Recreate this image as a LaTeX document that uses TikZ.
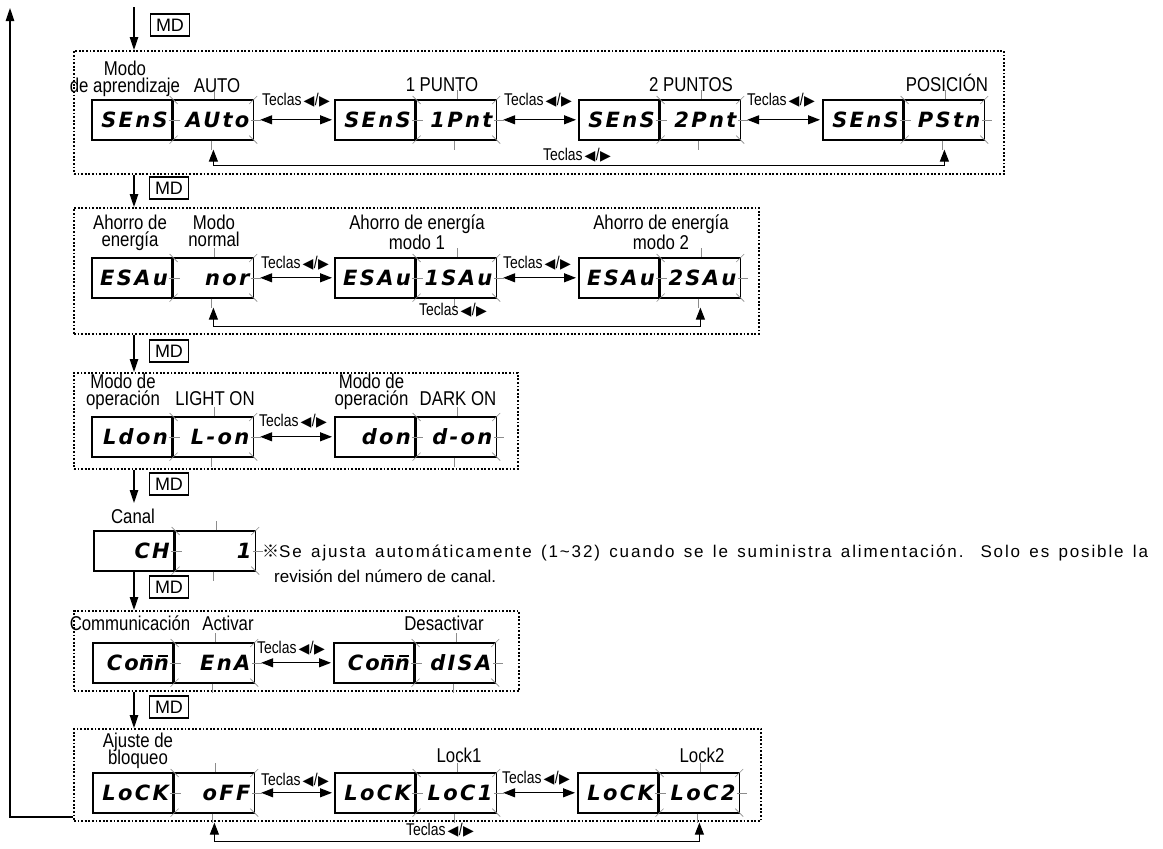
\documentclass[tikz,border=0pt]{standalone}
\usepackage{fontspec}
\setmainfont{Liberation Sans}
\newfontfamily\lblfont[FakeStretch=0.84]{Liberation Sans}
\newfontfamily\keyfont[FakeStretch=0.82]{Liberation Sans}
\newfontfamily\spacedfont[LetterSpace=11]{Liberation Sans}
\newfontfamily\lcdfont[LetterSpace=11]{DejaVu Sans Bold Oblique}
\newfontfamily\symfont{DejaVu Sans}
\newfontfamily\cjkfont{Noto Sans CJK JP}
\usetikzlibrary{arrows.meta}

% "Teclas <|/|>" key hint
\newcommand\teclas{{\keyfont\fontsize{17}{17}\selectfont Teclas}\hspace{2pt}{\symfont\fontsize{14}{14}\selectfont ◀}{\keyfont\fontsize{17}{17}\selectfont\kern0.5pt/\kern0.5pt}{\symfont\fontsize{14}{14}\selectfont ▶}}

% display "m" shown as an n with a bar on top
\newcommand\ovn{\rlap{\kern4.5pt\raisebox{13.6pt}{\rule{9.5pt}{1.8pt}}}n}

% two-cell display: name, x, y (top), left text, right (blinking) text
\newcommand\lcdpair[5]{%
  \node[lcd] (#1l) at (#2,#3) {#4};
  \node[lcd] (#1r) at (#1l.north east) {#5};
  \draw[blink] ([xshift=1pt]#1r.north) -- ++(0,-9);
  \draw[blink] ([xshift=-2pt]#1r.south) -- ++(0,9);
  \draw[blink] ([xshift=-4pt]#1r.west) -- ++(11,0);
  \draw[blink] ([xshift=-3pt]#1r.east) -- ++(10,0);
  \draw[blink] ([shift={(-3pt,3pt)}]#1r.north west) -- ++(8,8);
  \draw[blink] ([shift={(3pt,3pt)}]#1r.north east) -- ++(-8,8);
  \draw[blink] ([shift={(-3pt,-3pt)}]#1r.south west) -- ++(8,-8);
  \draw[blink] ([shift={(3pt,-3pt)}]#1r.south east) -- ++(-8,-8);
}

\begin{document}
\begin{tikzpicture}[x=1pt,y=-1pt,
  lcd/.style={draw, line width=1.6pt, anchor=north west, minimum width=80pt,
    minimum height=40pt, inner xsep=4pt, inner ysep=0pt, text width=72pt,
    align=right, text height=15.5pt, text depth=0pt,
    font=\lcdfont\fontsize{21}{21}\selectfont},
  blink/.style={draw=black!45, line width=0.6pt},
  grp/.style={draw, line width=1.8pt, dash pattern=on 1.8pt off 1.8pt,
    anchor=north west, inner sep=0pt},
  mdkey/.style={draw, line width=1.1pt, minimum width=39pt, minimum height=22pt,
    inner sep=0pt, font=\fontsize{18}{18}\selectfont},
  lbl/.style={anchor=base, inner sep=0pt, font=\lblfont\fontsize{20}{20}\selectfont},
  lbltwo/.style={anchor=north, inner sep=0pt, align=center,
    font=\lblfont\fontsize{20}{17}\selectfont},
  keys/.style={anchor=base, inner sep=0pt},
  flow/.style={line width=1.2pt, -{Triangle[length=13pt,width=8.5pt]}},
  swap/.style={line width=1.2pt,
    {Triangle[length=12pt,width=9pt]}-{Triangle[length=12pt,width=9pt]}},
]
\useasboundingbox (0,0) rectangle (1163,849);

% ---- dotted group frames
\node[grp, minimum width=930pt, minimum height=123pt] (g1) at (73,50) {};
\node[grp, minimum width=685pt, minimum height=126pt] (g2) at (73,207) {};
\node[grp, minimum width=444pt, minimum height=96pt]  (g3) at (73,372) {};
\node[grp, minimum width=445pt, minimum height=80pt]  (g5) at (73,610) {};
\node[grp, minimum width=687pt, minimum height=92pt]  (g6) at (73,728) {};

% ---- sensing mode
\lcdpair{p1}{91}{99}{SEnS}{AUto}
\lcdpair{p2}{334}{99}{SEnS}{1Pnt}
\lcdpair{p3}{578}{99}{SEnS}{2Pnt}
\lcdpair{p4}{822}{99}{SEnS}{PStn}
\node[lbltwo] (l11) at (125,61) {Modo\\de aprendizaje};
\node[lbl] (l13) at (217,92) {AUTO};
\node[lbl] (l14) at (442,91) {1 PUNTO};
\node[lbl] (l15) at (691,91) {2 PUNTOS};
\node[lbl] (l16) at (947,91) {POSICIÓN};
\draw[swap] ([xshift=6pt]p1r.east) -- ([xshift=-2pt]p2l.west);
\draw[swap] ([xshift=6pt]p2r.east) -- ([xshift=-2pt]p3l.west);
\draw[swap] ([xshift=6pt]p3r.east) -- ([xshift=-2pt]p4l.west);
\node[keys] (k11) at (296,105) {\teclas};
\node[keys] (k12) at (538,105) {\teclas};
\node[keys] (k13) at (781,105) {\teclas};
\draw[swap] ([yshift=-9pt]p1r.south) -- ++(0,16) -| ([yshift=-9pt]p4r.south);
\node[keys] (k14) at (577,160) {\teclas};

% ---- energy saving
\lcdpair{q1}{91}{257}{ESAu}{nor}
\lcdpair{q2}{334}{257}{ESAu}{1SAu}
\lcdpair{q3}{578}{257}{ESAu}{2SAu}
\node[lbltwo] (l21) at (130,215) {Ahorro de\\energía};
\node[lbltwo] (l23) at (214,215) {Modo\\normal};
\node[lbltwo] (l25) at (417,215) {Ahorro de energía\\modo 1};
\node[lbltwo] (l27) at (661,215) {Ahorro de energía\\modo 2};
\draw[swap] ([xshift=6pt]q1r.east) -- ([xshift=-2pt]q2l.west);
\draw[swap] ([xshift=6pt]q2r.east) -- ([xshift=-2pt]q3l.west);
\node[keys] (k21) at (295,268) {\teclas};
\node[keys] (k22) at (537,268) {\teclas};
\draw[swap] ([yshift=-9pt]q1r.south) -- ++(0,19) -| ([yshift=-9pt]q3r.south);
\node[keys] (k23) at (453,315) {\teclas};

% ---- output operation
\lcdpair{r1}{91}{416}{Ldon}{L-on}
\lcdpair{r2}{334}{416}{don}{d-on}
\node[lbltwo] (l31) at (123,374) {Modo de\\operación};
\node[lbl] (l33) at (215,405) {LIGHT ON};
\node[lbltwo] (l34) at (371.5,374) {Modo de\\operación};
\node[lbl] (l36) at (458,405) {DARK ON};
\draw[swap] ([xshift=6pt]r1r.east) -- ([xshift=-2pt]r2l.west);
\node[keys] (k31) at (293,426) {\teclas};

% ---- channel
\lcdpair{ch}{93}{530}{CH}{1}
\node[lbl] (l41) at (133,523) {Canal};
\node[anchor=base west, inner sep=0pt, font=\spacedfont\fontsize{17}{17}\selectfont] (note1) at (262,557)
  {{\cjkfont ※}\makebox[869pt][s]{Se ajusta automáticamente (1\textasciitilde32) cuando se le suministra alimentación. Solo es posible la}};
\node[anchor=base west, inner sep=0pt, font=\fontsize{17}{17}\selectfont] (note2) at (274,582)
  {revisión del número de canal.};

% ---- communication
\lcdpair{s1}{92}{642}{Co\ovn\ovn}{EnA}
\lcdpair{s2}{333}{642}{Co\ovn\ovn}{dISA}
\node[lbl] (l51) at (130,630) {Communicación};
\node[lbl] (l52) at (228,630) {Activar};
\node[lbl] (l53) at (444,630) {Desactivar};
\draw[swap] ([xshift=6pt]s1r.east) -- ([xshift=-2pt]s2l.west);
\node[keys] (k51) at (291,653) {\teclas};

% ---- lock setting
\lcdpair{t1}{92}{772}{LoCK}{oFF}
\lcdpair{t2}{334}{772}{LoCK}{LoC1}
\lcdpair{t3}{577}{772}{LoCK}{LoC2}
\node[lbltwo] (l61) at (138,733) {Ajuste de\\[-3pt]bloqueo};
\node[lbl] (l63) at (459,762) {Lock1};
\node[lbl] (l64) at (702,762) {Lock2};
\draw[swap] ([xshift=6pt]t1r.east) -- ([xshift=-2pt]t2l.west);
\draw[swap] ([xshift=6pt]t2r.east) -- ([xshift=-2pt]t3l.west);
\node[keys] (k61) at (295,785) {\teclas};
\node[keys] (k62) at (536,783) {\teclas};
\draw[swap] ([yshift=-9pt]t1r.south) -- ++(0,19) -| ([yshift=-9pt]t3r.south);
\node[keys] (k63) at (440,835) {\teclas};

% ---- MD key steps between groups
\coordinate (ax) at (134,0);
\coordinate (entry) at (134,7);
\coordinate (chin) at (134,503);
\draw[flow] (entry) -- (g1.north -| ax);
\draw[flow] (g1.south -| ax) -- (g2.north -| ax);
\draw[flow] (g2.south -| ax) -- (g3.north -| ax);
\draw[flow] (g3.south -| ax) -- (chin);
\draw[flow] (chl.south -| ax) -- (g5.north -| ax);
\draw[flow] (g5.south -| ax) -- (g6.north -| ax);
\node[mdkey] (md1) at (170,25) {MD};
\node[mdkey] (md2) at (169,188) {MD};
\node[mdkey] (md3) at (169,351) {MD};
\node[mdkey] (md4) at (169,484) {MD};
\node[mdkey] (md5) at (169,587) {MD};
\node[mdkey] (md6) at (169,707) {MD};

% ---- return loop to the start
\coordinate (lb) at (0,817);
\coordinate (ltop) at (10,8);
\draw[flow] (g6.west |- lb) -| (ltop);
\end{tikzpicture}
\end{document}
